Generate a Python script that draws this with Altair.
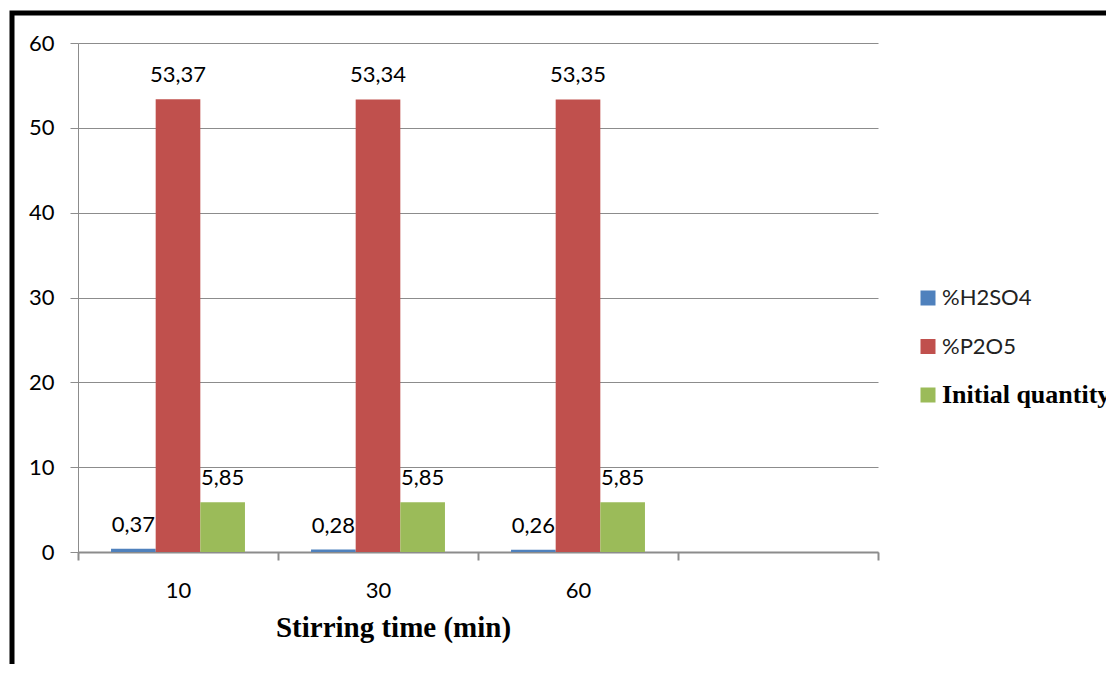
import altair as alt
import pandas as pd

# ---- data ----
times = ["10", "30", "60"]
x_domain = times + [""]          # the reference shows an empty 4th category
series_order = ["%H2SO4", "%P2O5", "Initial quantity"]
h2so4 = [0.37, 0.28, 0.26]
p2o5 = [53.37, 53.34, 53.35]
initial = [5.85, 5.85, 5.85]
colors = ["#4F81BD", "#C0504D", "#9BBB59"]
y_ticks = [0, 10, 20, 30, 40, 50, 60]

rows = []
for i, t in enumerate(times):
    rows.append({"time": t, "series": series_order[0], "value": h2so4[i]})
    rows.append({"time": t, "series": series_order[1], "value": p2o5[i]})
    rows.append({"time": t, "series": series_order[2], "value": initial[i]})
df = pd.DataFrame(rows)

SANS = "Lato"
SERIF = "Liberation Serif"
GRAY = "#8c8c8c"

color_scale = alt.Scale(domain=series_order, range=colors)

x_enc = alt.X(
    "time:N",
    scale=alt.Scale(domain=x_domain, paddingInner=0, paddingOuter=0),
    sort=x_domain,
    axis=alt.Axis(
        title="Stirring time (min)",
        titleFont=SERIF, titleFontSize=29, titleFontWeight="bold", titleColor="black",
        titleX=315, titleY=75, titleAlign="center", titleBaseline="middle",
        labelFont=SANS, labelFontSize=22, labelColor="black", labelAngle=0,
        labelBaseline="middle", labelPadding=30,
        tickBand="extent", tickSize=8, tickColor=GRAY, tickWidth=2,
        domainColor=GRAY, domainWidth=2, grid=False,
    ),
)
xoff = alt.XOffset(
    "series:N",
    sort=series_order,
    scale=alt.Scale(domain=series_order, paddingInner=0, paddingOuter=0.74),
)
y_enc = alt.Y(
    "value:Q", scale=alt.Scale(domain=[0, 60], nice=False),
    axis=alt.Axis(
        title=None, values=y_ticks,
        labelFont=SANS, labelFontSize=22, labelColor="black", labelPadding=16,
        tickSize=8, tickColor=GRAY, gridColor=GRAY, gridWidth=1,
        domainColor=GRAY, domainWidth=1,
    ),
)

bars = alt.Chart(df).mark_bar().encode(
    x=x_enc, xOffset=xoff, y=y_enc,
    color=alt.Color("series:N", scale=color_scale, legend=None),
)

labels = alt.Chart(df).transform_calculate(
    lab="replace(format(datum.value, '.2f'), '.', ',')"
).mark_text(
    font=SANS, fontSize=22, color="black", baseline="middle", dy=-24
).encode(
    x=x_enc, xOffset=xoff, y=y_enc, text="lab:N",
)

main = alt.layer(labels, bars)

# ---- legend built from the series list ----
leg_df = pd.DataFrame({"series": series_order})
leg_y = alt.Y("series:N", sort=series_order,
              scale=alt.Scale(type="point", domain=series_order, range=[255, 352], padding=0),
              axis=None)

leg_sq = alt.Chart(leg_df).mark_square(size=225, opacity=1).encode(
    x=alt.value(850), y=leg_y,
    color=alt.Color("series:N", scale=color_scale, legend=None),
)
leg_txt_sans = alt.Chart(leg_df).transform_filter(
    alt.FieldOneOfPredicate(field="series", oneOf=series_order[:2])
).mark_text(font=SANS, fontSize=22, color="#222222", align="left", baseline="middle").encode(
    x=alt.value(864), y=leg_y, text="series:N",
)
leg_txt_serif = alt.Chart(leg_df).transform_filter(
    alt.FieldOneOfPredicate(field="series", oneOf=series_order[2:])
).mark_text(font=SERIF, fontSize=26, fontWeight="bold", color="black", align="left", baseline="middle").encode(
    x=alt.value(864), y=leg_y, text="series:N",
)
legend = alt.layer(leg_sq, leg_txt_sans, leg_txt_serif)

# ---- outer chart-area frame ----
frame = alt.Chart(pd.DataFrame({"k": [0]})).mark_rect(
    fillOpacity=0, stroke="black", strokeWidth=5
).encode(
    x=alt.value(-66), x2=alt.value(1200), y=alt.value(-30), y2=alt.value(800),
)

chart = alt.layer(main, legend, frame).resolve_scale(y="independent").properties(
    width=800, height=509,
    autosize=alt.AutoSizeParams(type="none"),
    padding={"left": 70, "top": 35, "right": 228, "bottom": 112},
    background="white",
).configure_view(stroke=None)

chart.save("out.html", embed_options={"renderer": "svg", "actions": False})
